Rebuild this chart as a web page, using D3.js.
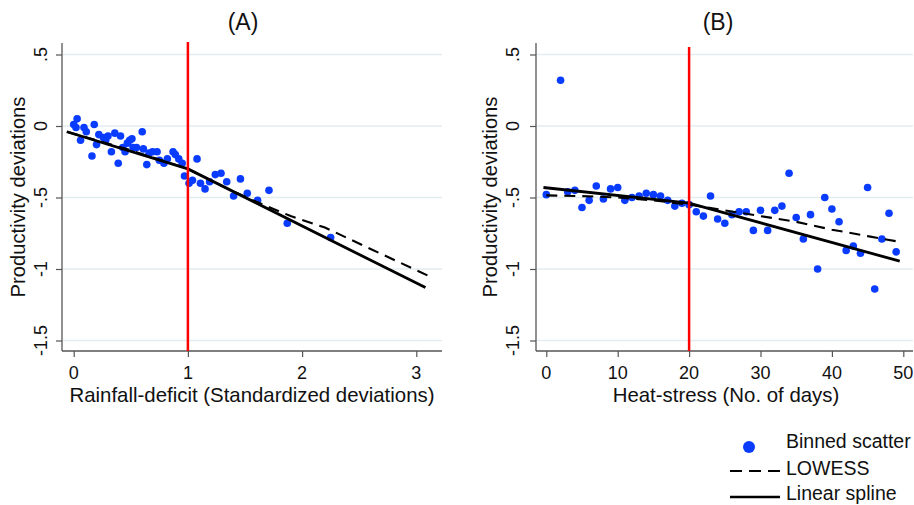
<!DOCTYPE html>
<html>
<head>
<meta charset="utf-8">
<script src="https://cdn.jsdelivr.net/npm/d3@7"></script>
<style>
  html, body { margin: 0; padding: 0; background: #fff; }
  svg { display: block; font-family: "Liberation Sans", Arial, sans-serif; }
</style>
</head>
<body>
<svg id="chart" width="914" height="505"></svg>
<script>
// ---------- DATA ----------
// Panel A: Rainfall-deficit binned scatter
const rainX = [0.00,0.02,0.03,0.06,0.09,0.11,0.16,0.18,0.20,0.22,0.26,0.28,0.30,0.33,0.36,0.39,0.41,0.43,0.45,0.47,0.49,0.51,0.52,0.55,0.60,0.61,0.64,0.66,0.69,0.73,0.75,0.79,0.82,0.87,0.89,0.92,0.95,0.97,1.01,1.04,1.08,1.11,1.15,1.19,1.24,1.29,1.34,1.40,1.46,1.52,1.61,1.71,1.87,2.25];
const rainY = [0.01,-0.01,0.05,-0.10,-0.01,-0.04,-0.21,0.01,-0.13,-0.06,-0.08,-0.10,-0.07,-0.18,-0.05,-0.26,-0.07,-0.15,-0.18,-0.12,-0.10,-0.09,-0.15,-0.15,-0.04,-0.16,-0.27,-0.19,-0.18,-0.18,-0.24,-0.26,-0.23,-0.18,-0.20,-0.23,-0.26,-0.35,-0.40,-0.38,-0.23,-0.40,-0.44,-0.39,-0.34,-0.33,-0.39,-0.49,-0.37,-0.47,-0.52,-0.45,-0.68,-0.78];
const rainSplineX = [-0.06, 1.0, 3.08];
const rainSplineY = [-0.04, -0.30, -1.13];
const rainLowessX = [-0.06, 0.5, 1.0, 1.3, 1.6, 1.9, 2.2, 2.6, 3.14];
const rainLowessY = [-0.04, -0.17, -0.30, -0.42, -0.53, -0.63, -0.71, -0.86, -1.06];
const rainThreshold = 1;
const rainTicks = [0, 1, 2, 3];

// Panel B: Heat-stress binned scatter
const heatX = [0,2,3,4,5,6,7,8,9,10,11,12,13,14,15,16,17,18,19,20,21,22,23,24,25,26,27,28,29,30,31,32,33,34,35,36,37,38,39,40,41,42,43,44,45,46,47,48,49];
const heatY = [-0.48,0.32,-0.46,-0.45,-0.57,-0.52,-0.42,-0.51,-0.44,-0.43,-0.52,-0.50,-0.49,-0.47,-0.48,-0.49,-0.52,-0.56,-0.54,-0.55,-0.60,-0.63,-0.49,-0.65,-0.68,-0.62,-0.60,-0.60,-0.73,-0.59,-0.73,-0.59,-0.56,-0.33,-0.64,-0.79,-0.62,-1.00,-0.50,-0.58,-0.67,-0.87,-0.84,-0.89,-0.43,-1.14,-0.79,-0.61,-0.88];
const heatSplineX = [-0.4, 20, 49.5];
const heatSplineY = [-0.43, -0.54, -0.945];
const heatLowessX = [0, 5, 10, 15, 20, 25, 30, 35, 40, 45, 49.5];
const heatLowessY = [-0.485, -0.49, -0.50, -0.52, -0.55, -0.59, -0.63, -0.67, -0.725, -0.77, -0.81];
const heatThreshold = 20;
const heatTicks = [0, 10, 20, 30, 40, 50];

const yTicks = [0.5, 0, -0.5, -1, -1.5];
const yTickLabels = [".5", "0", "-.5", "-1", "-1.5"];

const titles = ["(A)", "(B)"];
const xTitles = ["Rainfall-deficit (Standardized deviations)", "Heat-stress (No. of days)"];
const yTitle = "Productivity deviations";
const legendLabels = ["Binned scatter", "LOWESS", "Linear spline"];

// ---------- DRAW ----------
const svg = d3.select("#chart");
svg.append("rect").attr("width", 914).attr("height", 505).attr("fill", "#fff");

const DOT = "#0a3cff";
const AXIS = "#555";
const GRID = "#e3edf0";

const panels = [
  {
    title: titles[0], xTitle: xTitles[0],
    px0: 62, px1: 442, py0: 43, py1: 351,
    x: d3.scaleLinear().domain([0, 3]).range([73.7, 416.3]),
    xTicks: rainTicks, thr: rainThreshold, redTop: 42,
    pts: rainX.map((v, i) => [v, rainY[i]]),
    spline: rainSplineX.map((v, i) => [v, rainSplineY[i]]),
    lowess: rainLowessX.map((v, i) => [v, rainLowessY[i]]),
    yTickX: 41, yTitleX: 18, titleX: 243, xTitleX: 252
  },
  {
    title: titles[1], xTitle: xTitles[1],
    px0: 536, px1: 913, py0: 43, py1: 351,
    x: d3.scaleLinear().domain([0, 50]).range([546.3, 903.3]),
    xTicks: heatTicks, thr: heatThreshold, redTop: 47,
    pts: heatX.map((v, i) => [v, heatY[i]]),
    spline: heatSplineX.map((v, i) => [v, heatSplineY[i]]),
    lowess: heatLowessX.map((v, i) => [v, heatLowessY[i]]),
    yTickX: 513, yTitleX: 490, titleX: 718, xTitleX: 726
  }
];

const y = d3.scaleLinear().domain([-1.5, 0.5]).range([340.5, 54.5]);

panels.forEach(p => {
  const g = svg.append("g");
  const x = p.x;

  // grid lines
  g.selectAll("line.grid").data(yTicks).enter().append("line")
    .attr("x1", p.px0 + 1).attr("x2", p.px1)
    .attr("y1", d => y(d)).attr("y2", d => y(d))
    .attr("stroke", GRID).attr("stroke-width", 1.3);

  // y axis
  const yAxis = d3.axisLeft(y).tickValues(yTicks).tickSize(6).tickSizeOuter(0).tickFormat("");
  const ga = g.append("g").attr("transform", `translate(${p.px0},0)`).call(yAxis);
  ga.select(".domain").remove();
  ga.selectAll(".tick line").attr("stroke", AXIS).attr("stroke-width", 1.2);
  g.append("line").attr("x1", p.px0).attr("x2", p.px0).attr("y1", p.py0).attr("y2", p.py1)
    .attr("stroke", AXIS).attr("stroke-width", 1.3);
  g.selectAll("text.ytick").data(yTicks).enter().append("text")
    .attr("transform", d => `translate(${p.yTickX},${y(d)}) rotate(-90)`)
    .attr("text-anchor", "middle").attr("dy", "0.35em")
    .attr("font-size", 18).attr("fill", "#111")
    .text((d, i) => yTickLabels[i]);

  // x axis
  const xAxis = d3.axisBottom(x).tickValues(p.xTicks).tickSize(6).tickSizeOuter(0).tickFormat("");
  const gx = g.append("g").attr("transform", `translate(0,${p.py1})`).call(xAxis);
  gx.select(".domain").remove();
  gx.selectAll(".tick line").attr("stroke", AXIS).attr("stroke-width", 1.2);
  g.append("line").attr("x1", p.px0).attr("x2", p.px1).attr("y1", p.py1).attr("y2", p.py1)
    .attr("stroke", AXIS).attr("stroke-width", 1.3);
  g.selectAll("text.xtick").data(p.xTicks).enter().append("text")
    .attr("x", d => x(d)).attr("y", 373).attr("dy", "0.35em")
    .attr("text-anchor", "middle").attr("font-size", 18).attr("fill", "#111")
    .text(d => d);

  // titles
  g.append("text").attr("x", p.xTitleX).attr("y", 395).attr("dy", "0.35em")
    .attr("text-anchor", "middle").attr("font-size", 20.4).attr("fill", "#111").text(p.xTitle);
  g.append("text")
    .attr("transform", `translate(${p.yTitleX},${(p.py0 + p.py1) / 2}) rotate(-90)`)
    .attr("text-anchor", "middle").attr("dy", "0.35em")
    .attr("font-size", 20.2).attr("fill", "#111").text(yTitle);
  g.append("text").attr("x", p.titleX).attr("y", 30)
    .attr("text-anchor", "middle").attr("font-size", 23).attr("fill", "#111").text(p.title);

  // scatter
  g.selectAll("circle.pt").data(p.pts).enter().append("circle")
    .attr("cx", d => x(d[0])).attr("cy", d => y(d[1])).attr("r", 3.8)
    .attr("fill", DOT);

  const line = d3.line().x(d => x(d[0])).y(d => y(d[1]));
  g.append("path").datum(p.lowess).attr("d", line).attr("fill", "none")
    .attr("stroke", "#000").attr("stroke-width", 2.1).attr("stroke-dasharray", "11,7");
  g.append("path").datum(p.spline).attr("d", line).attr("fill", "none")
    .attr("stroke", "#000").attr("stroke-width", 2.8);

  // threshold line
  g.append("line").attr("x1", x(p.thr)).attr("x2", x(p.thr))
    .attr("y1", p.redTop).attr("y2", p.py1)
    .attr("stroke", "#ff0000").attr("stroke-width", 2.5);
});

// legend
const lg = svg.append("g");
lg.append("circle").attr("cx", 749).attr("cy", 447).attr("r", 6).attr("fill", DOT);
lg.append("line").attr("x1", 730).attr("x2", 780).attr("y1", 471).attr("y2", 471)
  .attr("stroke", "#000").attr("stroke-width", 2.2).attr("stroke-dasharray", "12,7");
lg.append("line").attr("x1", 730).attr("x2", 780).attr("y1", 497).attr("y2", 497)
  .attr("stroke", "#000").attr("stroke-width", 2.4);
const lgY = [448, 475, 500];
lg.selectAll("text").data(legendLabels).enter().append("text")
  .attr("x", 786).attr("y", (d, i) => lgY[i])
  .attr("font-size", 19.5).attr("fill", "#111").text(d => d);
</script>
</body>
</html>
